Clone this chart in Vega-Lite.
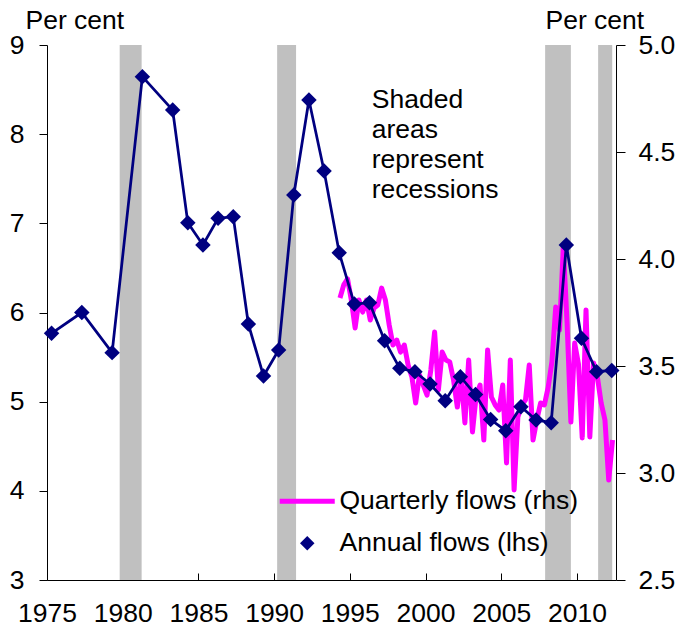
{
  "$schema": "https://vega.github.io/schema/vega-lite/v6.json",
  "width": 569,
  "height": 535,
  "autosize": {"type": "none"},
  "padding": {"left": 47, "top": 45, "right": 61, "bottom": 46},
  "background": "white",
  "config": {
    "view": {"stroke": null},
    "font": "Liberation Sans",
    "axis": {
      "labelFont": "Liberation Sans", "labelFontSize": 26.5, "labelColor": "black",
      "domainColor": "black", "tickColor": "black", "grid": false,
      "titleFont": "Liberation Sans", "titleFontSize": 26.5, "titleFontWeight": "normal", "titleColor": "black"
    }
  },
  "datasets": {
    "recessions": [
      {"t": 1979.8, "t2": 1981.25},
      {"t": 1990.2, "t2": 1991.45},
      {"t": 2007.9, "t2": 2009.6},
      {"t": 2011.4, "t2": 2012.33}
    ],
    "annual": [
      {"t": 1975.3, "v": 5.767, "series": "Annual flows (lhs)"},
      {"t": 1977.3, "v": 6.0, "series": "Annual flows (lhs)"},
      {"t": 1979.3, "v": 5.55, "series": "Annual flows (lhs)"},
      {"t": 1981.3, "v": 8.645, "series": "Annual flows (lhs)"},
      {"t": 1983.3, "v": 8.27, "series": "Annual flows (lhs)"},
      {"t": 1984.3, "v": 7.007, "series": "Annual flows (lhs)"},
      {"t": 1985.3, "v": 6.757, "series": "Annual flows (lhs)"},
      {"t": 1986.3, "v": 7.056, "series": "Annual flows (lhs)"},
      {"t": 1987.3, "v": 7.075, "series": "Annual flows (lhs)"},
      {"t": 1988.3, "v": 5.87, "series": "Annual flows (lhs)"},
      {"t": 1989.3, "v": 5.288, "series": "Annual flows (lhs)"},
      {"t": 1990.3, "v": 5.58, "series": "Annual flows (lhs)"},
      {"t": 1991.3, "v": 7.318, "series": "Annual flows (lhs)"},
      {"t": 1992.3, "v": 8.383, "series": "Annual flows (lhs)"},
      {"t": 1993.3, "v": 7.587, "series": "Annual flows (lhs)"},
      {"t": 1994.3, "v": 6.67, "series": "Annual flows (lhs)"},
      {"t": 1995.3, "v": 6.095, "series": "Annual flows (lhs)"},
      {"t": 1996.3, "v": 6.11, "series": "Annual flows (lhs)"},
      {"t": 1997.3, "v": 5.684, "series": "Annual flows (lhs)"},
      {"t": 1998.3, "v": 5.374, "series": "Annual flows (lhs)"},
      {"t": 1999.3, "v": 5.336, "series": "Annual flows (lhs)"},
      {"t": 2000.3, "v": 5.198, "series": "Annual flows (lhs)"},
      {"t": 2001.3, "v": 5.01, "series": "Annual flows (lhs)"},
      {"t": 2002.3, "v": 5.28, "series": "Annual flows (lhs)"},
      {"t": 2003.3, "v": 5.08, "series": "Annual flows (lhs)"},
      {"t": 2004.3, "v": 4.8, "series": "Annual flows (lhs)"},
      {"t": 2005.3, "v": 4.675, "series": "Annual flows (lhs)"},
      {"t": 2006.3, "v": 4.944, "series": "Annual flows (lhs)"},
      {"t": 2007.3, "v": 4.795, "series": "Annual flows (lhs)"},
      {"t": 2008.3, "v": 4.764, "series": "Annual flows (lhs)"},
      {"t": 2009.3, "v": 6.757, "series": "Annual flows (lhs)"},
      {"t": 2010.3, "v": 5.71, "series": "Annual flows (lhs)"},
      {"t": 2011.3, "v": 5.336, "series": "Annual flows (lhs)"},
      {"t": 2012.3, "v": 5.35, "series": "Annual flows (lhs)"}
    ],
    "quarterly": [
      {"t": 1994.35, "v": 3.818, "series": "Quarterly flows (rhs)"},
      {"t": 1994.6, "v": 3.879, "series": "Quarterly flows (rhs)"},
      {"t": 1994.85, "v": 3.907, "series": "Quarterly flows (rhs)"},
      {"t": 1995.1, "v": 3.808, "series": "Quarterly flows (rhs)"},
      {"t": 1995.35, "v": 3.678, "series": "Quarterly flows (rhs)"},
      {"t": 1995.6, "v": 3.808, "series": "Quarterly flows (rhs)"},
      {"t": 1995.85, "v": 3.752, "series": "Quarterly flows (rhs)"},
      {"t": 1996.1, "v": 3.808, "series": "Quarterly flows (rhs)"},
      {"t": 1996.35, "v": 3.715, "series": "Quarterly flows (rhs)"},
      {"t": 1996.6, "v": 3.771, "series": "Quarterly flows (rhs)"},
      {"t": 1996.85, "v": 3.785, "series": "Quarterly flows (rhs)"},
      {"t": 1997.1, "v": 3.864, "series": "Quarterly flows (rhs)"},
      {"t": 1997.35, "v": 3.808, "series": "Quarterly flows (rhs)"},
      {"t": 1997.6, "v": 3.692, "series": "Quarterly flows (rhs)"},
      {"t": 1997.85, "v": 3.598, "series": "Quarterly flows (rhs)"},
      {"t": 1998.1, "v": 3.621, "series": "Quarterly flows (rhs)"},
      {"t": 1998.35, "v": 3.565, "series": "Quarterly flows (rhs)"},
      {"t": 1998.6, "v": 3.598, "series": "Quarterly flows (rhs)"},
      {"t": 1998.85, "v": 3.505, "series": "Quarterly flows (rhs)"},
      {"t": 1999.1, "v": 3.449, "series": "Quarterly flows (rhs)"},
      {"t": 1999.35, "v": 3.327, "series": "Quarterly flows (rhs)"},
      {"t": 1999.6, "v": 3.458, "series": "Quarterly flows (rhs)"},
      {"t": 1999.85, "v": 3.411, "series": "Quarterly flows (rhs)"},
      {"t": 2000.1, "v": 3.364, "series": "Quarterly flows (rhs)"},
      {"t": 2000.35, "v": 3.481, "series": "Quarterly flows (rhs)"},
      {"t": 2000.6, "v": 3.659, "series": "Quarterly flows (rhs)"},
      {"t": 2000.85, "v": 3.388, "series": "Quarterly flows (rhs)"},
      {"t": 2001.1, "v": 3.565, "series": "Quarterly flows (rhs)"},
      {"t": 2001.35, "v": 3.528, "series": "Quarterly flows (rhs)"},
      {"t": 2001.6, "v": 3.519, "series": "Quarterly flows (rhs)"},
      {"t": 2001.85, "v": 3.435, "series": "Quarterly flows (rhs)"},
      {"t": 2002.1, "v": 3.308, "series": "Quarterly flows (rhs)"},
      {"t": 2002.35, "v": 3.458, "series": "Quarterly flows (rhs)"},
      {"t": 2002.6, "v": 3.234, "series": "Quarterly flows (rhs)"},
      {"t": 2002.85, "v": 3.528, "series": "Quarterly flows (rhs)"},
      {"t": 2003.1, "v": 3.192, "series": "Quarterly flows (rhs)"},
      {"t": 2003.35, "v": 3.364, "series": "Quarterly flows (rhs)"},
      {"t": 2003.6, "v": 3.411, "series": "Quarterly flows (rhs)"},
      {"t": 2003.85, "v": 3.154, "series": "Quarterly flows (rhs)"},
      {"t": 2004.1, "v": 3.575, "series": "Quarterly flows (rhs)"},
      {"t": 2004.35, "v": 3.355, "series": "Quarterly flows (rhs)"},
      {"t": 2004.6, "v": 3.318, "series": "Quarterly flows (rhs)"},
      {"t": 2004.85, "v": 3.294, "series": "Quarterly flows (rhs)"},
      {"t": 2005.1, "v": 3.411, "series": "Quarterly flows (rhs)"},
      {"t": 2005.35, "v": 3.047, "series": "Quarterly flows (rhs)"},
      {"t": 2005.6, "v": 3.528, "series": "Quarterly flows (rhs)"},
      {"t": 2005.85, "v": 2.921, "series": "Quarterly flows (rhs)"},
      {"t": 2006.1, "v": 3.262, "series": "Quarterly flows (rhs)"},
      {"t": 2006.35, "v": 3.318, "series": "Quarterly flows (rhs)"},
      {"t": 2006.6, "v": 3.341, "series": "Quarterly flows (rhs)"},
      {"t": 2006.85, "v": 3.505, "series": "Quarterly flows (rhs)"},
      {"t": 2007.1, "v": 3.154, "series": "Quarterly flows (rhs)"},
      {"t": 2007.35, "v": 3.248, "series": "Quarterly flows (rhs)"},
      {"t": 2007.6, "v": 3.327, "series": "Quarterly flows (rhs)"},
      {"t": 2007.85, "v": 3.318, "series": "Quarterly flows (rhs)"},
      {"t": 2008.1, "v": 3.40, "series": "Quarterly flows (rhs)"},
      {"t": 2008.35, "v": 3.52, "series": "Quarterly flows (rhs)"},
      {"t": 2008.6, "v": 3.776, "series": "Quarterly flows (rhs)"},
      {"t": 2008.85, "v": 3.668, "series": "Quarterly flows (rhs)"},
      {"t": 2009.1, "v": 4.056, "series": "Quarterly flows (rhs)"},
      {"t": 2009.35, "v": 3.70, "series": "Quarterly flows (rhs)"},
      {"t": 2009.6, "v": 3.238, "series": "Quarterly flows (rhs)"},
      {"t": 2009.85, "v": 3.607, "series": "Quarterly flows (rhs)"},
      {"t": 2010.1, "v": 3.51, "series": "Quarterly flows (rhs)"},
      {"t": 2010.35, "v": 3.164, "series": "Quarterly flows (rhs)"},
      {"t": 2010.6, "v": 3.762, "series": "Quarterly flows (rhs)"},
      {"t": 2010.85, "v": 3.168, "series": "Quarterly flows (rhs)"},
      {"t": 2011.1, "v": 3.514, "series": "Quarterly flows (rhs)"},
      {"t": 2011.35, "v": 3.449, "series": "Quarterly flows (rhs)"},
      {"t": 2011.6, "v": 3.327, "series": "Quarterly flows (rhs)"},
      {"t": 2011.85, "v": 3.248, "series": "Quarterly flows (rhs)"},
      {"t": 2012.1, "v": 2.967, "series": "Quarterly flows (rhs)"},
      {"t": 2012.35, "v": 3.154, "series": "Quarterly flows (rhs)"}
    ],
    "note": [
      {"t": 1996.45, "v": 8.293, "label": "Shaded|areas|represent|recessions"}
    ]
  },
  "encoding": {
    "x": {
      "field": "t", "type": "quantitative",
      "scale": {"domain": [1975, 2012.58], "nice": false, "zero": false},
      "axis": {
        "values": [1975, 1980, 1985, 1990, 1995, 2000, 2005, 2010],
        "format": "d", "tickSize": -7, "labelPadding": 27, "title": null,
        "labelFlush": false, "labelOverlap": false
      }
    }
  },
  "layer": [
    {
      "data": {"name": "recessions"},
      "mark": {"type": "rect", "color": "#C0C0C0"},
      "encoding": {"x2": {"field": "t2"}}
    },
    {
      "data": {"name": "quarterly"},
      "mark": {"type": "line", "strokeWidth": 5, "strokeJoin": "round"},
      "encoding": {
        "y": {
          "field": "v", "type": "quantitative",
          "scale": {"domain": [2.5, 5], "nice": false, "zero": false},
          "axis": {
            "orient": "right", "values": [2.5, 3, 3.5, 4, 4.5, 5], "format": ".1f",
            "tickSize": 9, "labelPadding": 13,
            "title": "Per cent", "titleAngle": 0, "titleAlign": "left", "titleBaseline": "alphabetic",
            "titleX": -71, "titleY": -17
          }
        },
        "color": {
          "field": "series", "type": "nominal",
          "scale": {"domain": ["Quarterly flows (rhs)", "Annual flows (lhs)"], "range": ["#FF00FF", "#000080"]},
          "legend": {
            "orient": "none", "legendX": 247, "legendY": 443, "title": null, "padding": 0,
            "labelFont": "Liberation Sans", "labelFontSize": 26.5, "labelColor": "black", "labelOffset": 19,
            "labelLimit": 400, "symbolSize": 3025, "symbolType": "stroke", "rowPadding": 15,
            "encode": {
              "symbols": {
                "update": {
                  "shape": {"signal": "datum.value === 'Annual flows (lhs)' ? 'diamond' : 'stroke'"},
                  "size": {"signal": "datum.value === 'Annual flows (lhs)' ? 210 : 3025"},
                  "fill": {"signal": "datum.value === 'Annual flows (lhs)' ? '#000080' : 'transparent'"},
                  "stroke": {"signal": "datum.value === 'Annual flows (lhs)' ? 'transparent' : '#FF00FF'"},
                  "strokeWidth": {"signal": "datum.value === 'Annual flows (lhs)' ? 0 : 5"},
                  "opacity": {"value": 1}
                }
              }
            }
          }
        }
      }
    },
    {
      "layer": [
        {
          "data": {"name": "annual"},
          "mark": {"type": "line", "color": "#000080", "strokeWidth": 2.75}
        },
        {
          "data": {"name": "annual"},
          "mark": {"type": "point", "shape": "diamond", "filled": true, "size": 240, "opacity": 1},
          "encoding": {"color": {"field": "series", "type": "nominal"}}
        },
        {
          "data": {"name": "note"},
          "mark": {"type": "text", "align": "left", "baseline": "alphabetic", "fontSize": 26.5, "lineBreak": "|", "lineHeight": 30, "font": "Liberation Sans", "color": "black"},
          "encoding": {"text": {"field": "label"}}
        }
      ],
      "encoding": {
        "y": {
          "field": "v", "type": "quantitative",
          "scale": {"domain": [3, 9], "nice": false, "zero": false},
          "axis": {
            "orient": "left", "values": [3, 4, 5, 6, 7, 8, 9],
            "tickSize": 8, "labelPadding": 15,
            "title": "Per cent", "titleAngle": 0, "titleAlign": "left", "titleBaseline": "alphabetic",
            "titleX": -22, "titleY": -17
          }
        }
      }
    }
  ],
  "resolve": {"scale": {"y": "independent"}}
}
